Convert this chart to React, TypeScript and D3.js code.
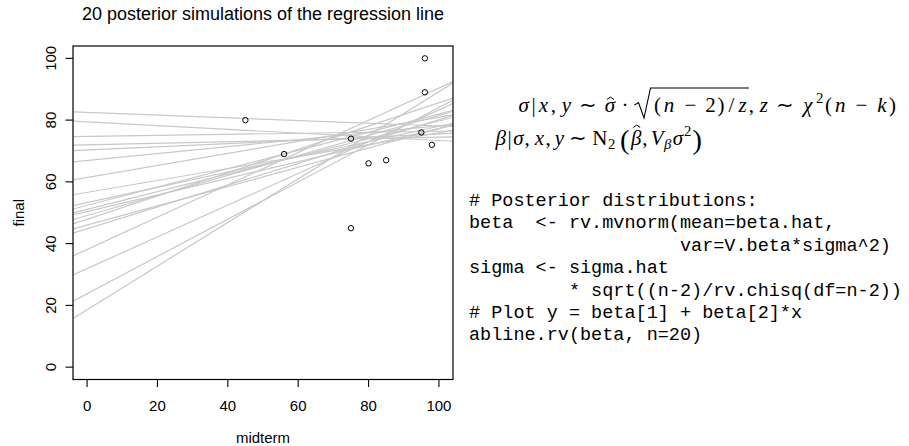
import React from "react";
import * as d3 from "d3";

// data points (midterm, final)
const midterm = [45, 56, 75, 75, 80, 85, 95, 96, 96, 98];
const finalScore = [80, 69, 74, 45, 66, 67, 76, 100, 89, 72];

// 20 posterior simulations of the regression line: intercepts & slopes
const intercepts = [82.5, 79.4, 74.7, 72.0, 70.3, 66.9, 61.4, 56.6, 53.3, 52.4, 51.1, 50.4, 49.1, 47.9, 46.0, 44.8, 38.1, 31.9, 23.8, 18.6];
const slopes = [-0.044, -0.06, 0.017, 0.025, 0.052, 0.113, 0.195, 0.193, 0.247, 0.296, 0.286, 0.269, 0.324, 0.377, 0.312, 0.353, 0.523, 0.514, 0.603, 0.706];

const xTicks = [0, 20, 40, 60, 80, 100];
const yTicks = [0, 20, 40, 60, 80, 100];

const codeLines = [
  "# Posterior distributions:",
  "beta  <- rv.mvnorm(mean=beta.hat,",
  "                   var=V.beta*sigma^2)",
  "sigma <- sigma.hat",
  "         * sqrt((n-2)/rv.chisq(df=n-2))",
  "# Plot y = beta[1] + beta[2]*x",
  "abline.rv(beta, n=20)",
];

// math tokens: [text, width in em, kind]
// kind: i=italic, r=roman, s=space, sup, sub, isub, big, hat, rad, radend
type Tok = [string, number, string];
const math1: Tok[] = [
  ["σ", 0.571, "i"], ["|", 0.278, "r"], ["x", 0.572, "i"], [",", 0.278, "r"], ["", 0.167, "s"],
  ["y", 0.49, "i"], ["", 0.278, "s"], ["∼", 0.778, "r"], ["", 0.278, "s"], ["σ", 0.571, "hat"],
  ["", 0.222, "s"], ["·", 0.278, "r"], ["", 0.222, "s"], ["", 0.833, "rad"],
  ["(", 0.389, "r"], ["n", 0.6, "i"], ["", 0.222, "s"], ["−", 0.778, "r"], ["", 0.222, "s"], ["2", 0.5, "r"],
  [")", 0.389, "r"], ["/", 0.5, "r"], ["z", 0.465, "i"], ["", 0, "radend"],
  [",", 0.278, "r"], ["", 0.167, "s"], ["z", 0.465, "i"], ["", 0.278, "s"], ["∼", 0.778, "r"], ["", 0.278, "s"],
  ["χ", 0.626, "i"], ["2", 0.38, "sup"], ["(", 0.389, "r"], ["n", 0.6, "i"], ["", 0.222, "s"], ["−", 0.778, "r"],
  ["", 0.222, "s"], ["k", 0.521, "i"], [")", 0.389, "r"],
];
const math2: Tok[] = [
  ["β", 0.566, "i"], ["|", 0.278, "r"], ["σ", 0.571, "i"], [",", 0.278, "r"], ["", 0.167, "s"],
  ["x", 0.572, "i"], [",", 0.278, "r"], ["", 0.167, "s"], ["y", 0.49, "i"], ["", 0.278, "s"],
  ["∼", 0.778, "r"], ["", 0.278, "s"], ["N", 0.75, "r"], ["2", 0.38, "sub"], ["", 0.167, "s"],
  ["(", 0.55, "big"], ["β", 0.566, "hatb"], [",", 0.278, "r"], ["", 0.167, "s"], ["V", 0.583, "i"],
  ["β", 0.42, "isub"], ["σ", 0.571, "i"], ["2", 0.38, "sup"], [")", 0.55, "big"],
];

const L = 73, R = 453, T = 46, B = 379.5;

function MathLine({ toks, x0, x1, base, fs, font }: { toks: Tok[]; x0: number; x1: number; base: number; fs: number; font: string }) {
  const total = toks.reduce((s, t) => s + t[1], 0);
  const k = (x1 - x0) / total;
  let cx = x0;
  let radStart = 0;
  const out: React.ReactNode[] = [];
  toks.forEach((t, i) => {
    const [txt, w, kind] = t;
    const wpx = w * k;
    const mid = cx + wpx / 2;
    if (kind === "rad") {
      radStart = cx;
    } else if (kind === "radend") {
      const r0 = radStart;
      out.push(
        <path key={i} d={`M${r0 + 1},${base - 7} L${r0 + 5},${base - 9.5} L${r0 + 10.5},${base + 6} L${r0 + 17},${base - 24} L${cx + 1},${base - 24}`} fill="none" stroke="#000" strokeWidth={1.1} strokeLinejoin="miter" />
      );
    } else if (kind === "i" || kind === "r") {
      out.push(<text key={i} x={mid} y={base} textAnchor="middle" fontStyle={kind === "i" ? "italic" : "normal"}>{txt}</text>);
    } else if (kind === "hat" || kind === "hatb") {
      const top = kind === "hat" ? base - 15 : base - 20;
      out.push(<text key={i} x={mid} y={base} textAnchor="middle" fontStyle="italic">{txt}</text>);
      out.push(<path key={i + "h"} d={`M${mid - 3},${top + 2.5} L${mid + 0.5},${top} L${mid + 4},${top + 2.5}`} fill="none" stroke="#000" strokeWidth={1} />);
    } else if (kind === "sup") {
      out.push(<text key={i} x={mid} y={base - 9} textAnchor="middle" fontSize={fs * 0.7}>{txt}</text>);
    } else if (kind === "sub") {
      out.push(<text key={i} x={mid} y={base + 4} textAnchor="middle" fontSize={fs * 0.7}>{txt}</text>);
    } else if (kind === "isub") {
      out.push(<text key={i} x={mid} y={base + 4} textAnchor="middle" fontSize={fs * 0.7} fontStyle="italic">{txt}</text>);
    } else if (kind === "big") {
      out.push(<text key={i} x={mid} y={base + 4} textAnchor="middle" fontSize={fs * 1.35}>{txt}</text>);
    }
    cx += wpx;
  });
  return <g fontFamily={font} fontSize={fs}>{out}</g>;
}

export default function App() {
  const x = d3.scaleLinear().domain([-4, 104]).range([L, R]);
  const y = d3.scaleLinear().domain([-4, 104]).range([B, T]);
  const sans = "'Liberation Sans', Arial, Helvetica, sans-serif";
  const serif = "'Liberation Serif', 'Times New Roman', serif";
  const mono = "'Liberation Mono', 'DejaVu Sans Mono', monospace";
  const lineGen = d3.line<[number, number]>().x(d => x(d[0])).y(d => y(d[1]));
  return (
    <svg width={909} height={446} style={{ position: "absolute", left: 0, top: 0, background: "#fff" }}>
      <defs>
        <clipPath id="plotclip">
          <rect x={L} y={T} width={R - L} height={B - T} />
        </clipPath>
      </defs>
      <rect x={0} y={0} width={909} height={446} fill="#fff" />
      <text x={(L + R) / 2} y={20} fontFamily={sans} fontSize={18} textAnchor="middle">20 posterior simulations of the regression line</text>
      <g clipPath="url(#plotclip)">
        {intercepts.map((a, i) => (
          <path key={i} d={lineGen([[-4, a + slopes[i] * -4], [104, a + slopes[i] * 104]]) || ""} stroke="#c8c8c8" strokeWidth={1.2} fill="none" />
        ))}
      </g>
      {midterm.map((m, i) => (
        <circle key={i} cx={x(m)} cy={y(finalScore[i])} r={2.7} fill="none" stroke="#000" strokeWidth={1} />
      ))}
      <rect x={L} y={T} width={R - L} height={B - T} fill="none" stroke="#000" strokeWidth={1.2} />
      {xTicks.map(t => (
        <g key={t}>
          <line x1={x(t)} x2={x(t)} y1={B} y2={B + 7.5} stroke="#000" strokeWidth={1.1} />
          <text x={x(t)} y={410.5} fontFamily={sans} fontSize={15} textAnchor="middle">{t}</text>
        </g>
      ))}
      {yTicks.map(t => (
        <g key={t}>
          <line x1={L} x2={L - 7.5} y1={y(t)} y2={y(t)} stroke="#000" strokeWidth={1.1} />
          <text transform={`translate(55.5,${y(t)}) rotate(-90)`} fontFamily={sans} fontSize={15} textAnchor="middle">{t}</text>
        </g>
      ))}
      <text x={(L + R) / 2} y={443} fontFamily={sans} fontSize={15} textAnchor="middle">midterm</text>
      <text transform={`translate(23.5,${(T + B) / 2}) rotate(-90)`} fontFamily={sans} fontSize={15} textAnchor="middle">final</text>

      <MathLine toks={math1} x0={517} x1={897} base={112} fs={21} font={serif} />
      <MathLine toks={math2} x0={495} x1={703} base={145} fs={21} font={serif} />

      <g fontFamily={mono} fontSize={18.5} style={{ whiteSpace: "pre" }}>
        {codeLines.map((c, i) => (
          <text key={i} x={469} y={206 + i * 22.4} xmlSpace="preserve">{c}</text>
        ))}
      </g>
    </svg>
  );
}
